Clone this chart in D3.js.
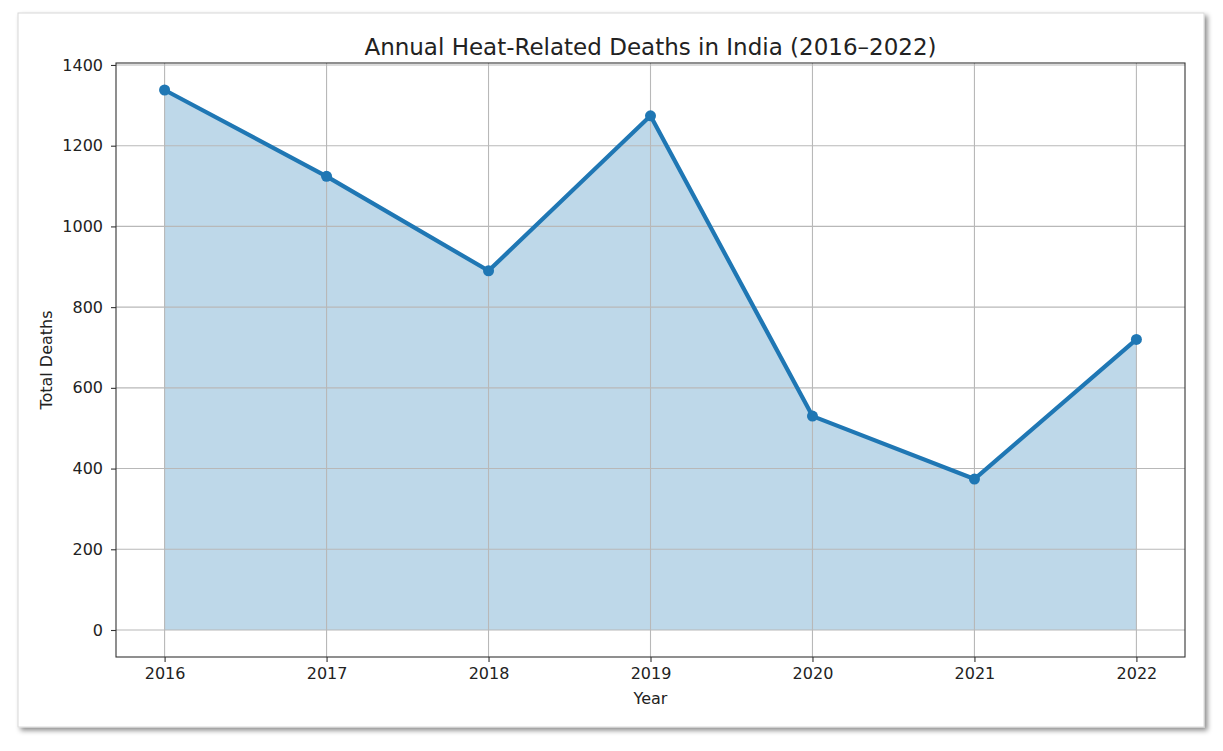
<!DOCTYPE html>
<html>
<head>
<meta charset="utf-8">
<script src="https://cdnjs.cloudflare.com/ajax/libs/d3/7.8.5/d3.min.js"></script>
<style>
	body { margin: 0; background: #fff; }
	svg text { font-family: "DejaVu Sans", sans-serif; fill: #222; }
</style>
</head>
<body>
<div id="chart"></div>
<script>
// data
var years = [2016, 2017, 2018, 2019, 2020, 2021, 2022];
var deaths = [1338, 1124, 890, 1274, 530, 374, 720];
var yTicks = [0, 200, 400, 600, 800, 1000, 1200, 1400];

var W = 1223, H = 751;
var card = {x: 18, y: 13, w: 1186, h: 714};
var plot = {left: 116, top: 63, right: 1185, bottom: 657};

var svg = d3.select("#chart").append("svg")
	.attr("width", W)
	.attr("height", H);

// drop shadow for the card
var defs = svg.append("defs");
var f = defs.append("filter").attr("id", "shadow")
	.attr("x", "-5%").attr("y", "-5%").attr("width", "110%").attr("height", "110%");
f.append("feDropShadow")
	.attr("dx", 3).attr("dy", 3).attr("stdDeviation", 2.5)
	.attr("flood-color", "#000").attr("flood-opacity", 0.45);

svg.append("rect")
	.attr("x", card.x).attr("y", card.y)
	.attr("width", card.w).attr("height", card.h)
	.attr("fill", "#fff")
	.attr("stroke", "#d8d8d8")
	.attr("filter", "url(#shadow)");

// matplotlib style 5% margins
var xpad = (years[years.length - 1] - years[0]) * 0.05;
var ymax = d3.max(deaths), ypad = ymax * 0.05;

var x = d3.scaleLinear()
	.domain([years[0] - xpad, years[years.length - 1] + xpad])
	.range([plot.left, plot.right]);

var y = d3.scaleLinear()
	.domain([0 - ypad, ymax + ypad])
	.range([plot.bottom, plot.top]);

// fill under the line
var area = d3.area()
	.x(function(d, i) { return x(years[i]); })
	.y0(y(0))
	.y1(function(d) { return y(d); });

svg.append("path")
	.datum(deaths)
	.attr("d", area)
	.attr("fill", "#1f77b4")
	.attr("fill-opacity", 0.29);

// grid (sits above the fill, below the line)
var grid = svg.append("g").attr("class", "grid");
grid.selectAll(".gx").data(years).enter().append("line")
	.attr("x1", function(d) { return x(d); })
	.attr("x2", function(d) { return x(d); })
	.attr("y1", plot.top).attr("y2", plot.bottom)
	.attr("stroke", "#b8b8b8").attr("stroke-width", 1.1);
grid.selectAll(".gy").data(yTicks).enter().append("line")
	.attr("x1", plot.left).attr("x2", plot.right)
	.attr("y1", function(d) { return y(d); })
	.attr("y2", function(d) { return y(d); })
	.attr("stroke", "#b8b8b8").attr("stroke-width", 1.1);

var line = d3.line()
	.x(function(d, i) { return x(years[i]); })
	.y(function(d) { return y(d); });

svg.append("path")
	.datum(deaths)
	.attr("d", line)
	.attr("fill", "none")
	.attr("stroke", "#1f77b4")
	.attr("stroke-width", 4.2)
	.attr("stroke-linejoin", "round");

svg.selectAll(".dot").data(deaths).enter().append("circle")
	.attr("cx", function(d, i) { return x(years[i]); })
	.attr("cy", function(d) { return y(d); })
	.attr("r", 5.5)
	.attr("fill", "#1f77b4");

// frame
svg.append("rect")
	.attr("x", plot.left).attr("y", plot.top)
	.attr("width", plot.right - plot.left)
	.attr("height", plot.bottom - plot.top)
	.attr("fill", "none")
	.attr("stroke", "#333")
	.attr("stroke-width", 1.1);

// axes
var xAxis = d3.axisBottom(x).tickValues(years).tickFormat(d3.format("d"))
	.tickSize(5).tickPadding(6);
var gx = svg.append("g")
	.attr("transform", "translate(0," + plot.bottom + ")")
	.call(xAxis);
var yAxis = d3.axisLeft(y).tickValues(yTicks).tickFormat(d3.format("d"))
	.tickSize(5).tickPadding(8);
var gy = svg.append("g")
	.attr("transform", "translate(" + plot.left + ",0)")
	.call(yAxis);

[gx, gy].forEach(function(g) {
	g.select(".domain").remove();
	g.selectAll(".tick line").attr("stroke", "#333").attr("stroke-width", 1.1);
	g.selectAll(".tick text").style("font-size", "16px").attr("fill", "#222");
});

// labels
svg.append("text")
	.attr("x", (plot.left + plot.right) / 2)
	.attr("y", 55)
	.attr("text-anchor", "middle")
	.style("font-size", "23px")
	.text("Annual Heat-Related Deaths in India (2016\u20132022)");

svg.append("text")
	.attr("x", (plot.left + plot.right) / 2)
	.attr("y", 704)
	.attr("text-anchor", "middle")
	.style("font-size", "16px")
	.text("Year");

svg.append("text")
	.attr("transform", "translate(52," + ((plot.top + plot.bottom) / 2) + ") rotate(-90)")
	.attr("text-anchor", "middle")
	.style("font-size", "16px")
	.text("Total Deaths");
</script>
</body>
</html>
